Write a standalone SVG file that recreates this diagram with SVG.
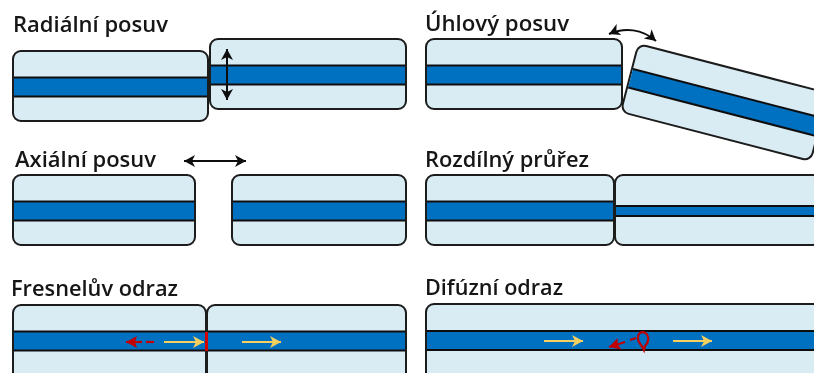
<svg xmlns="http://www.w3.org/2000/svg" width="814" height="373" viewBox="0 0 814 373">
<style>
.f{fill:#d9ebf3;stroke:#1a1a1a;stroke-width:2}
.c{fill:#0070c0}
.e{stroke:#111;stroke-width:2;fill:none}
.t{font-family:"Open Sans","Liberation Sans",sans-serif;font-weight:600;font-size:21.500px;fill:#141414}
.k{stroke:#111;stroke-width:2;fill:none;marker-start:url(#ka);marker-end:url(#ka)}
.y{stroke:#f7cf5f;stroke-width:2.200;fill:none;marker-end:url(#ya)}
.r{stroke:#c00000;stroke-width:2.200;fill:none}
</style>
<defs>
<marker id="ya" markerUnits="userSpaceOnUse" markerWidth="13" markerHeight="13" refX="11" refY="6.500" orient="auto"><path d="M0 0.500L11 6.500L0 12.500L3 6.500Z" fill="#f7cf5f"/></marker>
<marker id="ka" markerUnits="userSpaceOnUse" markerWidth="14" markerHeight="14" refX="11" refY="6" orient="auto-start-reverse"><path d="M0 0L11 6L0 12L3 6Z" fill="#111"/></marker>
<marker id="ra" markerUnits="userSpaceOnUse" markerWidth="14" markerHeight="14" refX="11" refY="6.500" orient="auto"><path d="M0 0.500L11 6.500L0 12.500L2 6.500Z" fill="#c00000"/></marker>
<filter id="b" x="-5%" y="-5%" width="110%" height="110%"><feGaussianBlur stdDeviation="0.55"/></filter>
</defs>
<rect width="814" height="373" fill="#fff"/>
<g filter="url(#b)">
<g id="radialni-posuv">
<text class="t" x="13" y="32" textLength="155" lengthAdjust="spacingAndGlyphs">Radiální posuv</text>
<g id="radial-left"><rect class="f" x="13" y="51" width="195" height="70" rx="8"/><rect class="c" x="14" y="77.500" width="193" height="19"/><path class="e" d="M14 77.500H207M14 96.500H207"/></g>
<g id="radial-right"><rect class="f" x="210" y="39" width="196" height="70" rx="8"/><rect class="c" x="211" y="65.500" width="194" height="19"/><path class="e" d="M211 65.500H405M211 84.500H405"/></g>
</g>
<g id="uhlovy-posuv">
<text class="t" x="425" y="31" textLength="144" lengthAdjust="spacingAndGlyphs">Úhlový posuv</text>
<g id="angular-left"><rect class="f" x="426" y="39" width="196" height="70" rx="8"/><rect class="c" x="427" y="65.500" width="194" height="19"/><path class="e" d="M427 65.500H621M427 84.500H621"/></g>
<g id="angular-right" transform="translate(724.500 102.500) rotate(14.500)"><rect class="f" x="-98" y="-35" width="196" height="70" rx="8"/><rect class="c" x="-97" y="-9.500" width="194" height="19"/><path class="e" d="M-97 -9.500H97M-97 9.500H97"/></g>
</g>
<g id="axialni-posuv">
<text class="t" x="15" y="167" textLength="141" lengthAdjust="spacingAndGlyphs">Axiální posuv</text>
<g id="axial-left"><rect class="f" x="13" y="175" width="182" height="70" rx="8"/><rect class="c" x="14" y="201.500" width="180" height="19"/><path class="e" d="M14 201.500H194M14 220.500H194"/></g>
<g id="axial-right"><rect class="f" x="232" y="175" width="174" height="70" rx="8"/><rect class="c" x="233" y="201.500" width="172" height="19"/><path class="e" d="M233 201.500H405M233 220.500H405"/></g>
</g>
<g id="rozdilny-prurez">
<text class="t" x="425" y="167" textLength="164" lengthAdjust="spacingAndGlyphs">Rozdílný průřez</text>
<g id="section-left"><rect class="f" x="426" y="175" width="188" height="70" rx="8"/><rect class="c" x="427" y="201.500" width="186" height="19"/><path class="e" d="M427 201.500H613M427 220.500H613"/></g>
<g id="section-right"><rect class="f" x="615" y="175" width="206" height="70" rx="8"/><rect class="c" x="616" y="206" width="198" height="10"/><path class="e" d="M616 206H814M616 216H814"/></g>
</g>
<g id="fresneluv-odraz">
<text class="t" x="11" y="296" textLength="167" lengthAdjust="spacingAndGlyphs">Fresnelův odraz</text>
<g id="fresnel-left"><rect class="f" x="13" y="305" width="193" height="80" rx="8"/><rect class="c" x="14" y="331.500" width="191" height="19"/><path class="e" d="M14 331.500H205M14 350.500H205"/></g>
<g id="fresnel-right"><rect class="f" x="207" y="305" width="199" height="80" rx="8"/><rect class="c" x="208" y="331.500" width="197" height="19"/><path class="e" d="M208 331.500H405M208 350.500H405"/></g>
<path d="M206.500 332V351" stroke="#d00000" stroke-width="3" fill="none"/>
</g>
<g id="difuzni-odraz">
<text class="t" x="425" y="295" textLength="138" lengthAdjust="spacingAndGlyphs">Difúzní odraz</text>
<g id="diffuse-fiber"><rect class="f" x="426" y="304" width="400" height="80" rx="8"/><rect class="c" x="427" y="331" width="387" height="19"/><path class="e" d="M427 331H814M427 350H814"/></g>
<path class="r" d="M640 333C644 331 647 333 648 337C649 341 647 344 645 346L644 350C642 345 638 343 638 339C638 336 638 334 640 333Z"/>
</g>
<g id="connectors">
<path class="k" d="M227 49V100"/>
<path class="k" d="M609 34C625 27 642 29 656 41"/>
<path class="k" d="M184 161H246"/>
<path class="y" d="M164 342H204"/>
<path class="y" d="M242 342H281"/>
<path class="r" d="M154 342H146"/>
<path class="r" style="marker-end:url(#ra)" d="M142 342H126"/>
<path class="y" d="M544 341H583"/>
<path class="y" d="M673 341H712"/>
<path class="r" d="M636 338L630 340"/>
<path class="r" style="marker-end:url(#ra)" d="M625 342L609 347"/>
</g>
</g>
</svg>
